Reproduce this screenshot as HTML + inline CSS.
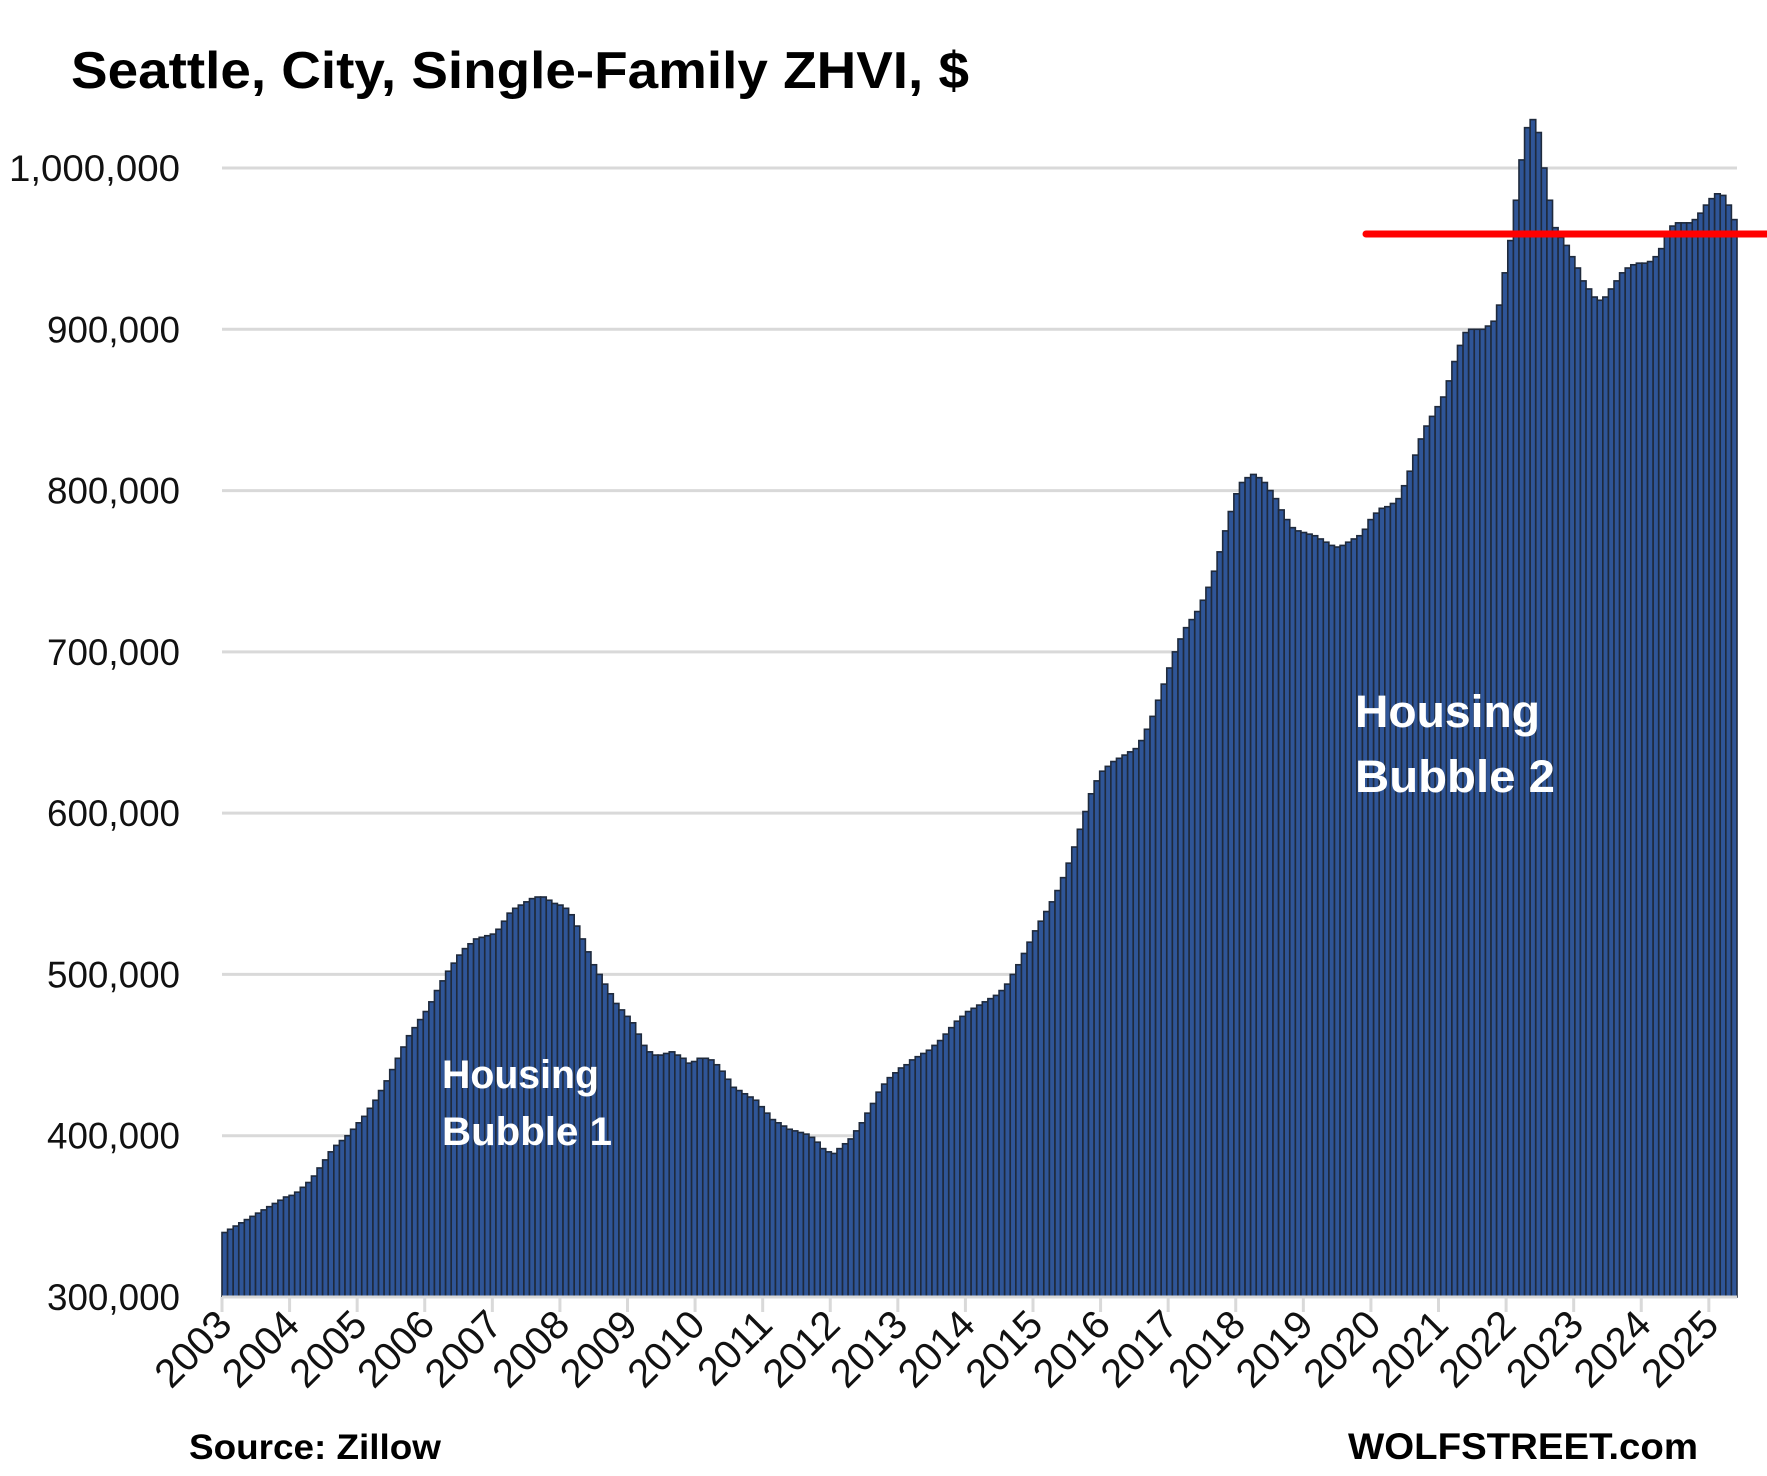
<!DOCTYPE html>
<html><head><meta charset="utf-8"><style>
html,body{margin:0;padding:0;background:#fff;}
svg{display:block;font-family:"Liberation Sans",sans-serif;}
</style></head><body>
<svg id="chart" width="1767" height="1476" viewBox="0 0 1767 1476">
<text x="71" y="88" font-size="52" font-weight="bold" textLength="898" lengthAdjust="spacingAndGlyphs">Seattle,  City, Single-Family ZHVI, $</text>
<g id="grid"></g><g id="bars"></g><g id="xaxis"></g>
<line x1="1366" y1="234" x2="1767" y2="234" stroke="#ff0000" stroke-width="7" stroke-linecap="round"/>
<text x="442" y="1088" font-size="40" font-weight="bold" fill="#fff" textLength="157" lengthAdjust="spacingAndGlyphs">Housing</text>
<text x="442" y="1145" font-size="40" font-weight="bold" fill="#fff" textLength="170" lengthAdjust="spacingAndGlyphs">Bubble 1</text>
<text x="1355" y="727" font-size="45" font-weight="bold" fill="#fff" textLength="185" lengthAdjust="spacingAndGlyphs">Housing</text>
<text x="1355" y="792" font-size="45" font-weight="bold" fill="#fff" textLength="200" lengthAdjust="spacingAndGlyphs">Bubble 2</text>
<text x="189" y="1459" font-size="35" font-weight="bold" textLength="252" lengthAdjust="spacingAndGlyphs">Source: Zillow</text>
<text x="1698" y="1459" font-size="37" font-weight="bold" text-anchor="end" textLength="350" lengthAdjust="spacingAndGlyphs">WOLFSTREET.com</text>
</svg>
<script>
const years = ["2003","2004","2005","2006","2007","2008","2009","2010","2011","2012","2013","2014","2015","2016","2017","2018","2019","2020","2021","2022","2023","2024","2025"];
const yTicks = [300000,400000,500000,600000,700000,800000,900000,1000000];
const yTickLabels = ["300,000","400,000","500,000","600,000","700,000","800,000","900,000","1,000,000"];
const values = [
340,342,344,346,348,350,352,354,356,358,360,362,
363,365,368,371,375,380,385,390,394,397,400,404,
408,412,417,422,428,434,441,448,455,462,467,472,
477,483,490,496,502,507,512,516,519,522,523,524,
525,528,533,538,541,543,545,547,548,548,546,544,
543,541,537,530,522,514,506,500,494,488,482,478,
474,470,463,456,452,450,450,451,452,450,448,445,
446,448,448,447,444,440,435,430,428,426,424,422,
418,414,410,408,406,404,403,402,401,399,396,392,
390,389,392,395,398,403,408,414,420,427,432,436,
439,442,444,447,449,451,453,456,459,463,467,471,
474,477,479,481,483,485,487,490,494,500,506,513,
520,527,533,539,545,552,560,569,579,590,601,612,
620,626,629,632,634,636,638,640,645,652,660,670,
680,690,700,708,715,720,725,732,740,750,762,775,
787,798,805,808,810,808,805,800,795,788,782,777,
775,774,773,772,770,768,766,765,766,768,770,772,
776,782,786,789,790,792,795,803,812,822,832,840,
846,852,858,868,880,890,898,900,900,900,902,905,
915,935,955,980,1005,1025,1030,1022,1000,980,963,957,
952,945,938,930,925,920,918,920,925,930,935,938,
940,941,941,942,945,950,958,964,966,966,966,968,
972,977,981,984,983,977,968
];
const NS="http://www.w3.org/2000/svg";
const L=222,R=1737,B=1297,T=168;
const nb=values.length, bw=(R-L)/nb;
const yS=v=>B-(v-300000)/700000*(B-T);
const xS=i=>L+i*bw;
const yearW=(R-L)/(22+5/12);
function mk(t,a,p){const e=document.createElementNS(NS,t);for(const k in a)e.setAttribute(k,a[k]);p.appendChild(e);return e;}
const grid=document.getElementById('grid'),bars=document.getElementById('bars'),xa=document.getElementById('xaxis');
yTicks.forEach((v,i)=>{
 const ln=mk('line',{x1:L,x2:R,y1:yS(v),y2:yS(v),stroke:'#d9d9d9','stroke-width':3},grid);
 
 
 const t=mk('text',{x:180,y:yS(v)+13,'font-size':37,'text-anchor':'end',fill:'#111',textLength:yTickLabels[i].length*19,lengthAdjust:'spacingAndGlyphs'},grid);
 t.textContent=yTickLabels[i];
 
 
});
values.forEach((v,i)=>{
 const y=yS(v*1000);
 const r=mk('rect',{x:xS(i),y:y,width:bw,height:B-y,fill:'#2f5597',stroke:'#1f2a3c','stroke-width':1.6},bars);
 
 
});
const base=mk('line',{x1:L,x2:R,y1:B,y2:B,stroke:'#d9d9d9','stroke-width':3},xa);


years.forEach((yr,i)=>{
 const x=L+i*yearW;
 const tk=mk('line',{x1:x,x2:x,y1:B,y2:B+15,stroke:'#d9d9d9','stroke-width':3},xa);
 
 
 const ax=x+12, ay=B+30;
 const t=mk('text',{x:ax,y:ay,'font-size':40,'text-anchor':'end',transform:`rotate(-45 ${ax} ${ay})`,fill:'#111'},xa);
 t.textContent=yr;
 
 
});
</script>
</body></html>
